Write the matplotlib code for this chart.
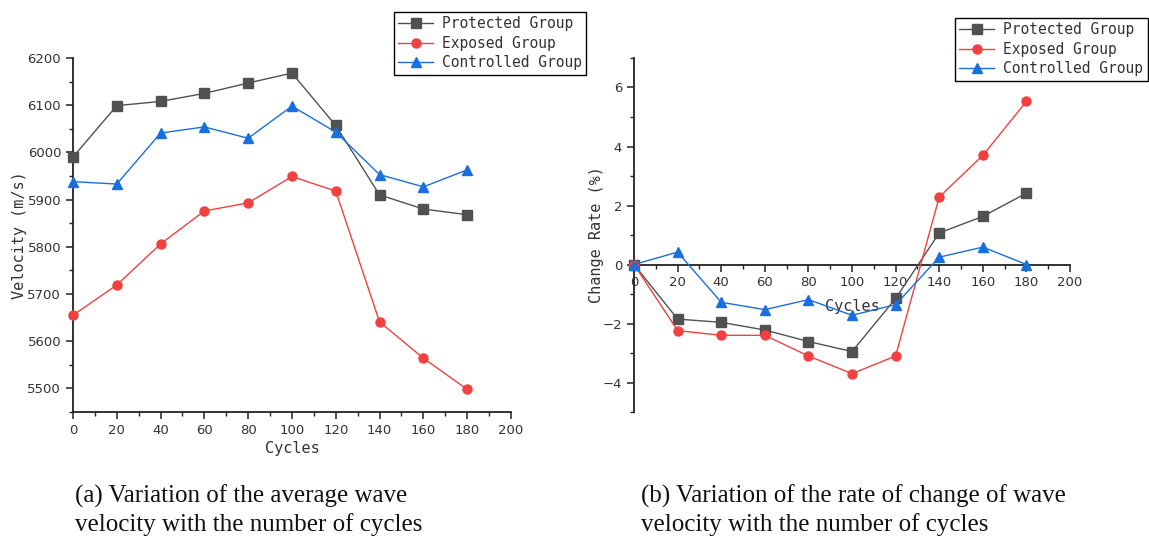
import matplotlib
matplotlib.use("Agg")
import matplotlib.pyplot as plt
from matplotlib.ticker import MultipleLocator

cycles = [0, 20, 40, 60, 80, 100, 120, 140, 160, 180]
vel_protected = [5990, 6099, 6108, 6125, 6147, 6168, 6057, 5910, 5880, 5868]
vel_exposed = [5655, 5719, 5806, 5876, 5893, 5949, 5918, 5641, 5564, 5498]
vel_controlled = [5938, 5933, 6041, 6054, 6030, 6098, 6043, 5953, 5927, 5963]

rate_protected = [0, -1.85, -1.96, -2.22, -2.61, -2.95, -1.15, 1.07, 1.63, 2.42]
rate_exposed = [0, -2.24, -2.40, -2.40, -3.10, -3.70, -3.10, 2.29, 3.70, 5.53]
rate_controlled = [0, 0.42, -1.28, -1.53, -1.19, -1.72, -1.36, 0.25, 0.59, 0.0]

names = ["Protected Group", "Exposed Group", "Controlled Group"]
colors = ["#515151", "#F14040", "#1A6FDF"]
markers = ["s", "o", "^"]

captions = ["(a) Variation of the average wave\nvelocity with the number of cycles",
            "(b) Variation of the rate of change of wave\nvelocity with the number of cycles"]

mono = "DejaVu Sans Mono"
tick_color = "#333333"

fig = plt.figure(figsize=(11.49, 5.41), dpi=100)
ax1 = fig.add_axes([0.0635, 0.2384, 0.3812, 0.6544])
ax2 = fig.add_axes([0.5518, 0.2384, 0.3795, 0.6544])

for ax, series in ((ax1, (vel_protected, vel_exposed, vel_controlled)),
                   (ax2, (rate_protected, rate_exposed, rate_controlled))):
    for vals, name, c, m in zip(series, names, colors, markers):
        ax.plot(cycles, vals, color=c, marker=m, markersize=6.5, linewidth=1.0,
                label=name, clip_on=False, zorder=3)
    ax.set_xlim(0, 200)
    ax.xaxis.set_major_locator(MultipleLocator(20))
    ax.xaxis.set_minor_locator(MultipleLocator(10))
    ax.spines["top"].set_visible(False)
    ax.spines["right"].set_visible(False)
    for s in ("left", "bottom"):
        ax.spines[s].set_linewidth(1.3)
        ax.spines[s].set_color("#222222")
    ax.tick_params(which="major", direction="out", length=5, width=1.1,
                   labelsize=9.5, labelcolor=tick_color, color="#222222")
    ax.tick_params(which="minor", direction="out", length=3, width=1.0, color="#222222")
    ax.set_xlabel("Cycles", fontfamily=mono, fontsize=11, color="#333333", labelpad=3)

ax1.set_ylim(5450, 6200)
ax1.yaxis.set_major_locator(MultipleLocator(100))
ax1.yaxis.set_minor_locator(MultipleLocator(50))
ax1.set_ylabel("Velocity (m/s)", fontfamily=mono, fontsize=11, color="#333333")
ax1.yaxis.set_label_coords(-0.105, 0.5)

ax2.set_ylim(-5, 7)
ax2.yaxis.set_minor_locator(MultipleLocator(1))
ax2.set_yticks([-4, -2, 0, 2, 4, 6])
ax2.spines["bottom"].set_position(("data", 0))
ax2.set_ylabel("Change Rate (%)", fontfamily=mono, fontsize=11, color="#333333")
ax2.yaxis.set_label_coords(-0.069, 0.5)
ax2.xaxis.set_label_coords(0.5, 0.32)

leg_kw = dict(loc="upper left", frameon=True, fancybox=False, edgecolor="black",
              handlelength=2.4, labelspacing=0.3, borderpad=0.3, handletextpad=0.6,
              borderaxespad=0, prop={"family": mono, "size": 10.5}, framealpha=1)
l1 = ax1.legend(bbox_to_anchor=(0.3429, 0.9778), bbox_transform=fig.transFigure, **leg_kw)
l2 = ax2.legend(bbox_to_anchor=(0.8312, 0.9667), bbox_transform=fig.transFigure, **leg_kw)
for l in (l1, l2):
    l.get_frame().set_linewidth(1.0)
    for t in l.get_texts():
        t.set_color("#333333")

fig.text(0.0653, 0.0564, captions[0], fontfamily="Liberation Serif", fontsize=18,
         va="center", ha="left", linespacing=1.3, color="#111111")
fig.text(0.5579, 0.0564, captions[1], fontfamily="Liberation Serif", fontsize=18,
         va="center", ha="left", linespacing=1.3, color="#111111")

fig.savefig("out.png", dpi=100)
